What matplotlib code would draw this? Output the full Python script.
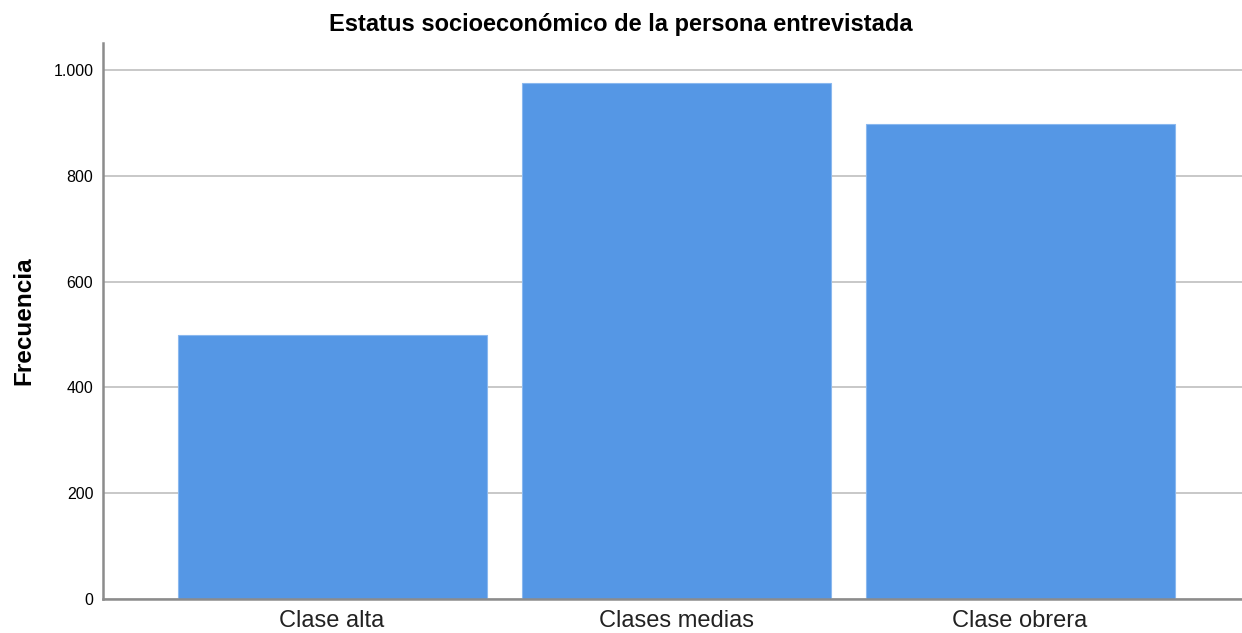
import matplotlib.pyplot as plt

categorias = ['Clase alta', 'Clases medias', 'Clase obrera']
frecuencias = [499, 975, 898]
ticks_y = [0, 200, 400, 600, 800, 1000]
etiquetas_y = ['0', '200', '400', '600', '800', '1.000']

plt.rcParams['font.family'] = ['Liberation Sans', 'DejaVu Sans']

fig = plt.figure(figsize=(12.42, 6.33), dpi=100)
ax = fig.add_axes([103 / 1242, 34 / 633, 1 - 103 / 1242, (599 - 43) / 633])

ax.set_axisbelow(True)
ax.yaxis.grid(True, color='#c4c4c4', linewidth=1.3)
ax.bar(range(len(categorias)), frecuencias, width=0.898, color='#5597e5',
       edgecolor='#8ab8ef', linewidth=0.8)

ax.set_xlim(-0.666, 2.645)
ax.set_ylim(0, 1051)
ax.set_xticks(range(len(categorias)))
ax.set_xticklabels(categorias, fontsize=17, color='#222222')
ax.set_yticks(ticks_y)
ax.set_yticklabels(etiquetas_y, fontsize=11.5)
ax.tick_params(length=0, pad=7)
ax.tick_params(axis='x', pad=8)

for s in ['top', 'right']:
    ax.spines[s].set_visible(False)
for s in ['left', 'bottom']:
    ax.spines[s].set_color('#8c8c8c')
    ax.spines[s].set_linewidth(1.8)

ax.set_ylabel('Frecuencia', fontsize=17.5, fontweight='bold', labelpad=13)

# titulo centrado en la figura, no en los ejes
fig.text(0.5, 1 - 25 / 633, 'Estatus socioeconómico de la persona entrevistada',
         fontsize=17, fontweight='bold', ha='center', va='center')

fig.savefig('out.png', dpi=100)
